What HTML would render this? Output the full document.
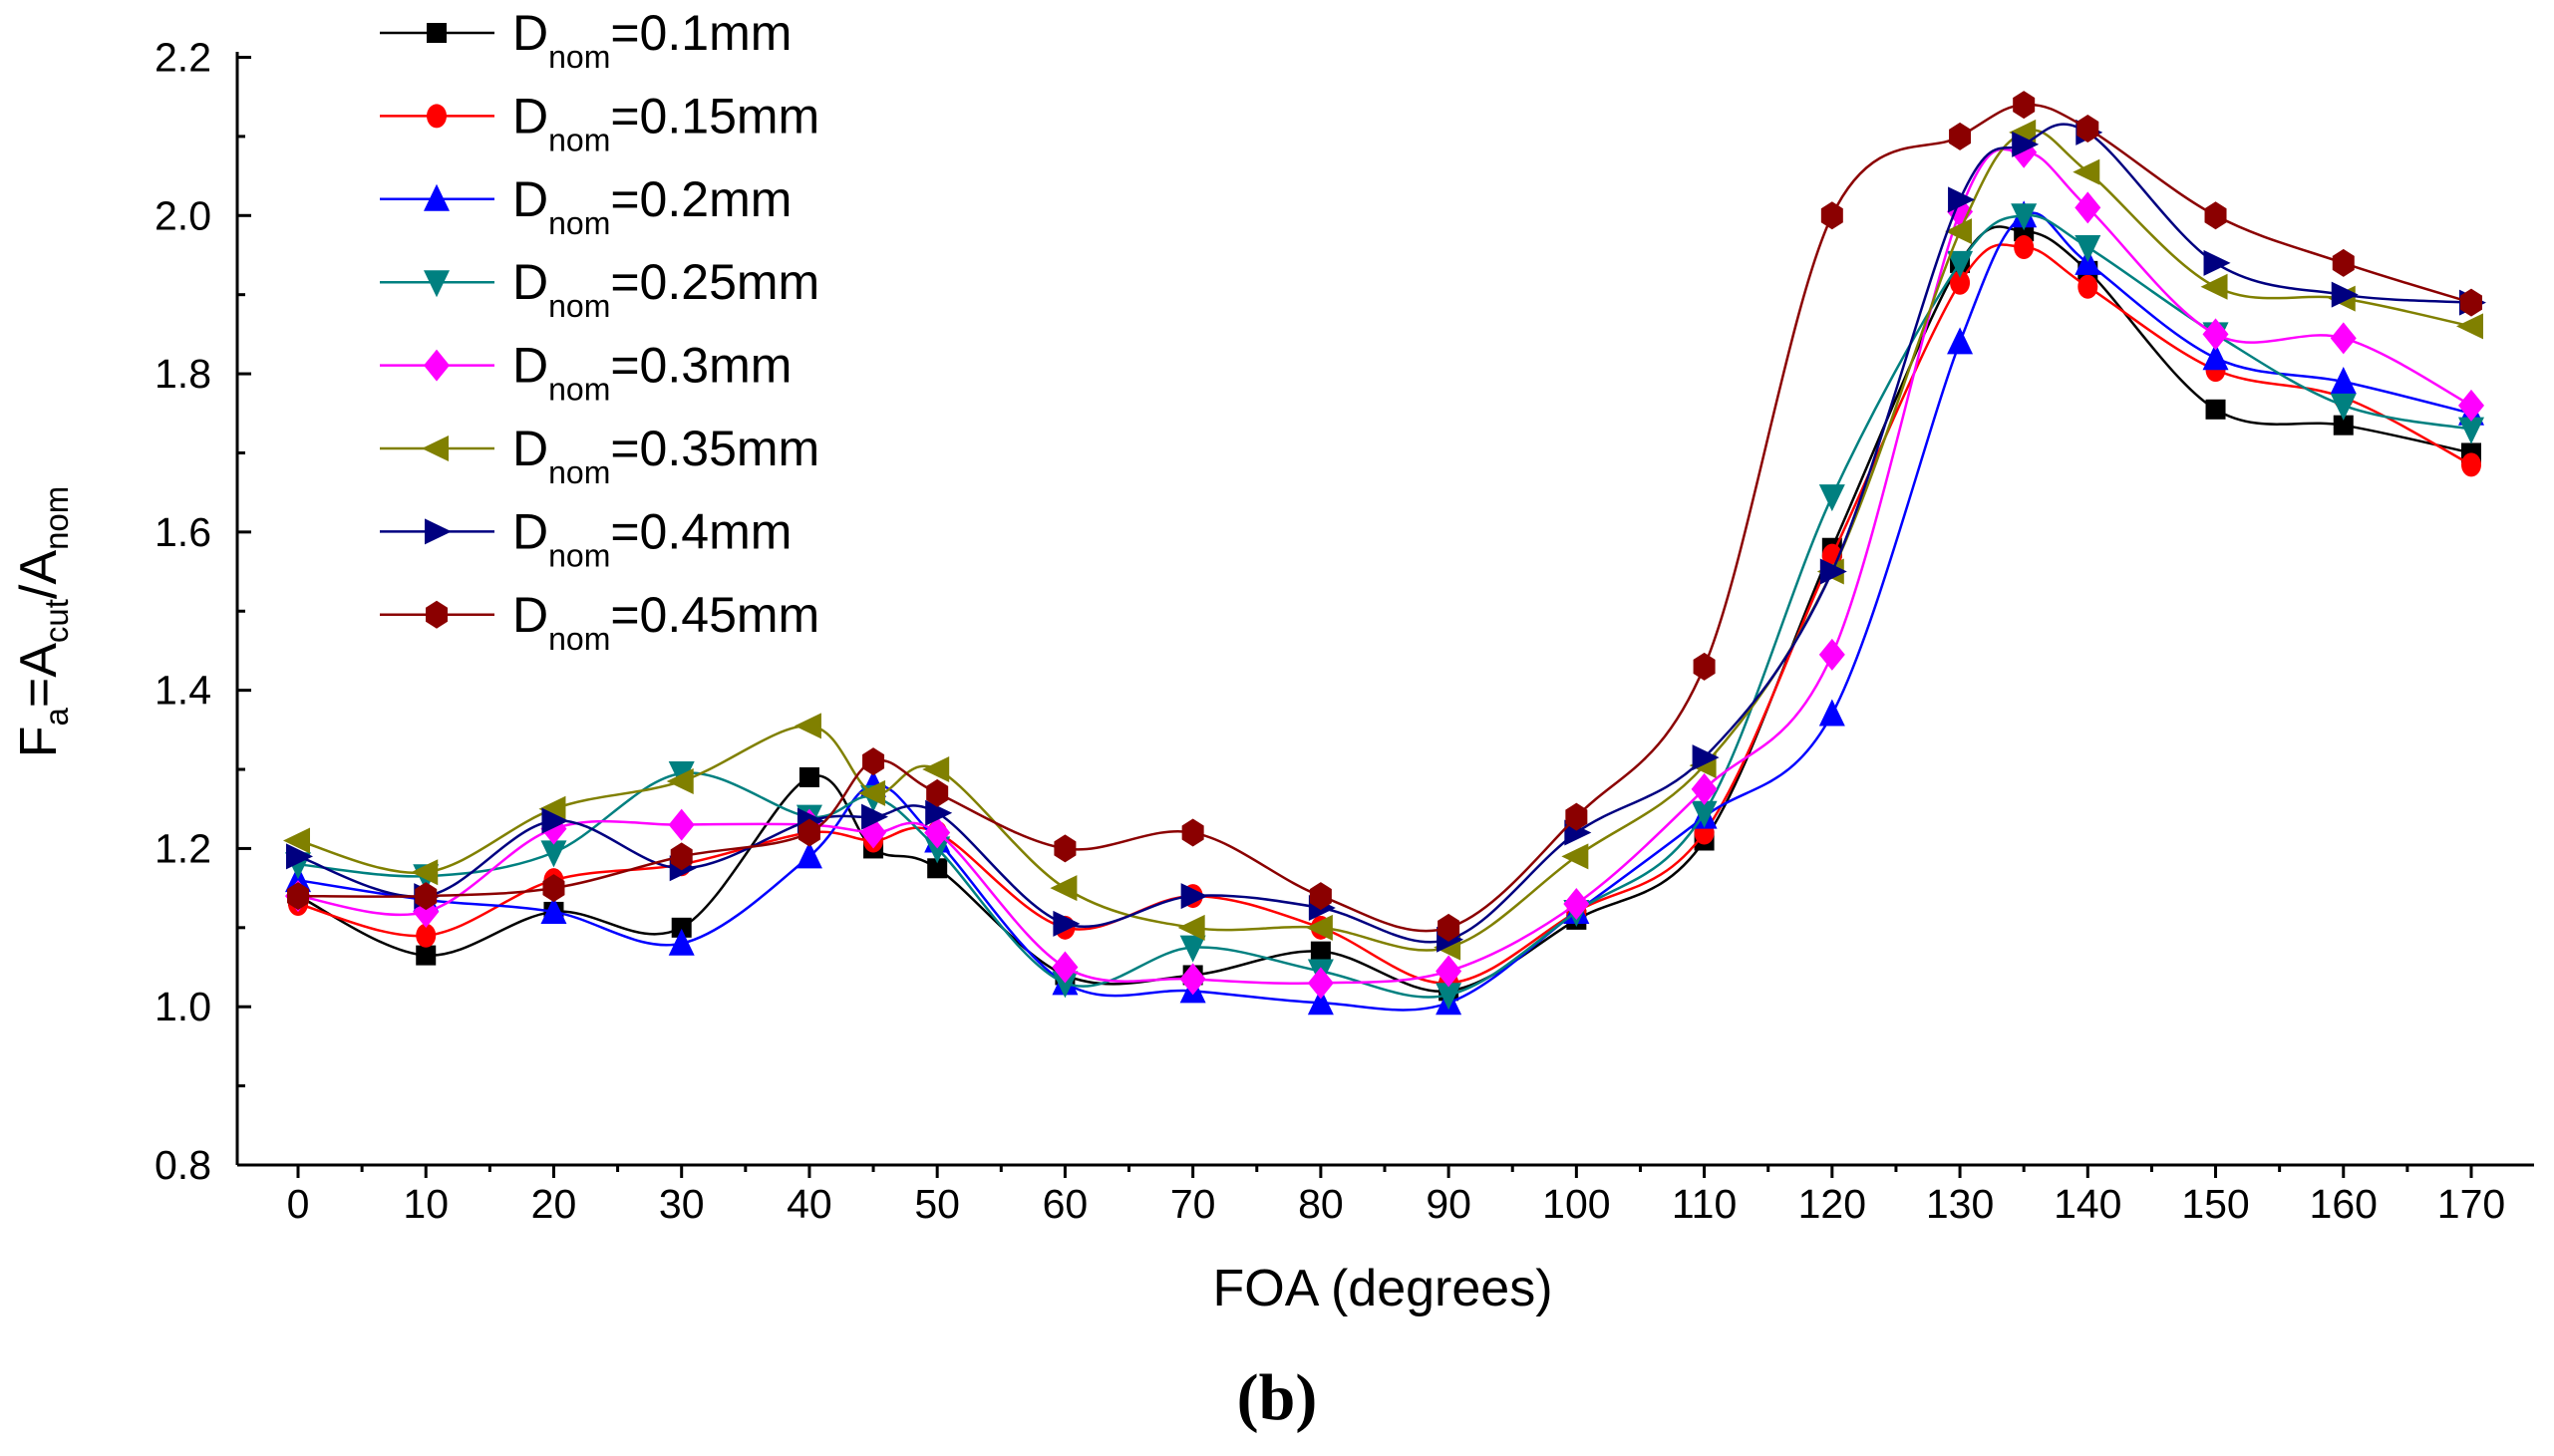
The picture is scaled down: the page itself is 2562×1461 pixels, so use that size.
<!DOCTYPE html>
<html><head><meta charset="utf-8"><style>
html,body{margin:0;padding:0;background:#fff;}
svg{display:block;font-family:"Liberation Sans",sans-serif;}
</style></head><body>
<svg id="chart" width="2562" height="1461" viewBox="0 0 2562 1461" xmlns="http://www.w3.org/2000/svg"></svg>
<script>
const categories = [0,10,20,30,40,45,50,60,70,80,90,100,110,120,130,135,140,150,160,170];
const seriesNames = ["0.1mm","0.15mm","0.2mm","0.25mm","0.3mm","0.35mm","0.4mm","0.45mm"];
const s01 = [1.14,1.065,1.12,1.10,1.29,1.20,1.175,1.04,1.04,1.07,1.02,1.11,1.21,1.58,1.94,1.98,1.93,1.755,1.735,1.70];
const s015 = [1.13,1.09,1.16,1.18,1.22,1.21,1.22,1.10,1.14,1.10,1.03,1.12,1.22,1.57,1.915,1.96,1.91,1.805,1.77,1.685];
const s02 = [1.16,1.135,1.12,1.08,1.19,1.28,1.21,1.03,1.02,1.005,1.005,1.12,1.24,1.37,1.84,2.0,1.94,1.82,1.79,1.75];
const s025 = [1.18,1.165,1.195,1.295,1.24,1.265,1.20,1.03,1.075,1.045,1.015,1.12,1.245,1.645,1.94,2.0,1.96,1.85,1.76,1.73];
const s03 = [1.14,1.12,1.225,1.23,1.23,1.22,1.22,1.05,1.035,1.03,1.045,1.13,1.275,1.445,2.005,2.08,2.01,1.85,1.845,1.76];
const s035 = [1.21,1.17,1.25,1.285,1.355,1.27,1.30,1.15,1.10,1.10,1.075,1.19,1.305,1.55,1.98,2.105,2.055,1.91,1.895,1.86];
const s04 = [1.19,1.14,1.235,1.175,1.235,1.24,1.245,1.105,1.14,1.125,1.085,1.22,1.315,1.55,2.02,2.09,2.105,1.94,1.90,1.89];
const s045 = [1.14,1.14,1.15,1.19,1.22,1.31,1.27,1.20,1.22,1.14,1.10,1.24,1.43,2.0,2.10,2.14,2.11,2.0,1.94,1.89];
const xTicks = [0,10,20,30,40,50,60,70,80,90,100,110,120,130,140,150,160,170];
const yTicks = [0.8,1.0,1.2,1.4,1.6,1.8,2.0,2.2];

const allSeries=[s01,s015,s02,s025,s03,s035,s04,s045];
const colors=["#000000","#ff0000","#0000ff","#008080","#ff00ff","#808000","#000080","#8b0000"];
const markers=["square","circle","up","down","diamond","left","right","hex"];
const NS="http://www.w3.org/2000/svg";
const svg=document.getElementById('chart');
const X=v=>299+(v-0)*(2479-299)/170;
const Y=v=>1169-(v-0.8)*(1169-57.5)/1.4;
function el(t,a,p){const e=document.createElementNS(NS,t);for(const k in a)e.setAttribute(k,a[k]);(p||svg).appendChild(e);return e;}
const ax=el('g',{});


el('line',{x1:238,y1:1169,x2:2542,y2:1169,stroke:'#000','stroke-width':3},ax);
el('line',{x1:238,y1:1169,x2:238,y2:52,stroke:'#000','stroke-width':3},ax);
xTicks.forEach(v=>{
  el('line',{x1:X(v),y1:1169,x2:X(v),y2:1182,stroke:'#000','stroke-width':3},ax);
  const t=el('text',{x:X(v),y:1222,'font-size':41,'text-anchor':'middle'},ax);t.textContent=v;
  
  
  if(v<170){el('line',{x1:X(v+5),y1:1169,x2:X(v+5),y2:1176,stroke:'#000','stroke-width':3},ax);}
});
yTicks.forEach((v,i)=>{
  el('line',{x1:238,y1:Y(v),x2:252,y2:Y(v),stroke:'#000','stroke-width':3},ax);
  const t=el('text',{x:212,y:Y(v)+14,'font-size':41,'text-anchor':'end'},ax);t.textContent=v.toFixed(1);
  
  
  if(i<yTicks.length-1)el('line',{x1:238,y1:Y(v+0.1),x2:246,y2:Y(v+0.1),stroke:'#000','stroke-width':3},ax);
});
const xt=el('text',{x:1387,y:1310,'font-size':52,'text-anchor':'middle'});xt.textContent='FOA (degrees)';


const yt=el('text',{transform:'translate(56,624) rotate(-90)','font-size':52,'text-anchor':'middle'});


yt.innerHTML='F<tspan font-size="33" dy="12">a</tspan><tspan dy="-12">=A</tspan><tspan font-size="33" dy="12">cut</tspan><tspan dy="-12">/A</tspan><tspan font-size="33" dy="12">nom</tspan>';
const bt=el('text',{x:1281,y:1424,'font-size':66,'font-weight':'bold','text-anchor':'middle','font-family':'Liberation Serif, serif'});bt.textContent='(b)';



function marker(type,x,y,c,g){
  const r=13;
  if(type==='square')return el('rect',{x:x-10,y:y-10,width:20,height:20,fill:c},g);
  if(type==='circle')return el('ellipse',{cx:x,cy:y,rx:10,ry:12,fill:c},g);
  if(type==='hex')return el('polygon',{points:`${x-11},${y-7} ${x},${y-14} ${x+11},${y-7} ${x+11},${y+7} ${x},${y+14} ${x-11},${y+7}`,fill:c},g);
  if(type==='up')return el('polygon',{points:`${x},${y-r-2} ${x+r},${y+r-1} ${x-r},${y+r-1}`,fill:c},g);
  if(type==='down')return el('polygon',{points:`${x},${y+r+2} ${x+r},${y-r+1} ${x-r},${y-r+1}`,fill:c},g);
  if(type==='left')return el('polygon',{points:`${x-r-2},${y} ${x+r-1},${y-r} ${x+r-1},${y+r}`,fill:c},g);
  if(type==='right')return el('polygon',{points:`${x+r+2},${y} ${x-r+1},${y-r} ${x-r+1},${y+r}`,fill:c},g);
  return el('polygon',{points:`${x},${y-16} ${x+13},${y} ${x},${y+16} ${x-13},${y}`,fill:c},g);
}
function spline(pts){
  let d=`M${pts[0][0]},${pts[0][1]}`;
  for(let i=0;i<pts.length-1;i++){
    const p0=pts[Math.max(0,i-1)],p1=pts[i],p2=pts[i+1],p3=pts[Math.min(pts.length-1,i+2)];
    const c1=[p1[0]+(p2[0]-p0[0])/6,p1[1]+(p2[1]-p0[1])/6];
    const c2=[p2[0]-(p3[0]-p1[0])/6,p2[1]-(p3[1]-p1[1])/6];
    d+=` C${c1[0]},${c1[1]} ${c2[0]},${c2[1]} ${p2[0]},${p2[1]}`;
  }
  return d;
}
allSeries.forEach((s,si)=>{
  const g=el('g',{});
  
  
  const pts=categories.map((c,i)=>[X(c),Y(s[i])]);
  const p=el('path',{d:spline(pts),fill:'none',stroke:colors[si],'stroke-width':2.5},g);
  
  
  pts.forEach(pt=>{
    const m=marker(markers[si],pt[0],pt[1],colors[si],g);
    
    
  });
  const ly=33+si*83.4;
  const lg=el('g',{});
  
  
  el('line',{x1:381,y1:ly,x2:496,y2:ly,stroke:colors[si],'stroke-width':2.5},lg);
  marker(markers[si],438,ly,colors[si],lg);
  const t=el('text',{x:514,y:ly+17,'font-size':50},lg);
  t.innerHTML='D<tspan font-size="32" dy="18">nom</tspan><tspan dy="-18">='+seriesNames[si]+'</tspan>';
});
</script>
</body></html>
